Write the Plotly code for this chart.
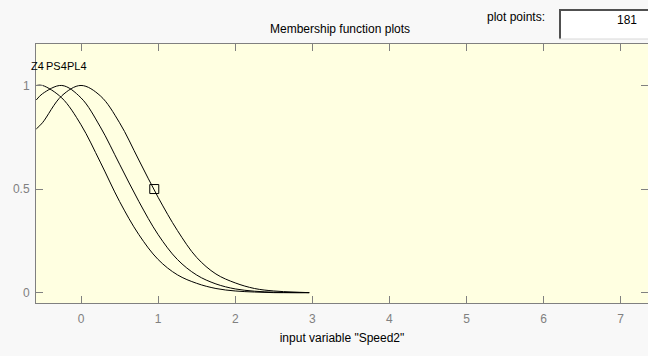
import plotly.graph_objects as go

# Membership functions of input variable "Speed2" (values sampled along x)
x_pts = [-0.58, -0.5, -0.25, 0.0, 0.25, 0.5, 0.75, 1.0, 1.25, 1.5, 1.75, 2.0, 2.25, 2.5, 2.75, 2.96]
z4 = [1.00, 1.00, 0.94, 0.81, 0.63, 0.44, 0.28, 0.16, 0.086, 0.045, 0.02, 0.008, 0.003, 0.0, 0.0, 0.0]
ps4 = [0.93, 0.96, 1.00, 0.94, 0.80, 0.62, 0.44, 0.28, 0.16, 0.085, 0.042, 0.018, 0.007, 0.002, 0.0, 0.0]
pl4 = [0.79, 0.82, 0.95, 1.00, 0.95, 0.82, 0.64, 0.46, 0.30, 0.17, 0.09, 0.047, 0.02, 0.008, 0.003, 0.0]

mf_names = ["Z4", "PS4", "PL4"]
mf_label_x = [-0.56, -0.315, -0.058]
mf_label_y = 1.094

# Selected point marker
sel_x = [0.95]
sel_y = [0.5]

x_ticks = [0, 1, 2, 3, 4, 5, 6, 7]
y_ticks = [0, 0.5, 1]
y_tick_text = ["0", "0.5", "1"]

plot_points = "181"

FONT = "Liberation Sans, Arial, sans-serif"
GRAY = "#808080"
FS = 12

fig = go.Figure()
for ys in (z4, ps4, pl4):
    fig.add_trace(go.Scatter(x=x_pts, y=ys, mode="lines",
                             line=dict(color="black", width=1, shape="spline"),
                             showlegend=False, hoverinfo="skip"))

fig.add_trace(go.Scatter(x=sel_x, y=sel_y, mode="markers",
                         marker=dict(symbol="square-open", size=9,
                                     color="black", line=dict(width=1)),
                         showlegend=False, hoverinfo="skip"))

# invisible trace so the right-hand tick axis is drawn
fig.add_trace(go.Scatter(x=[0], y=[0], yaxis="y2", mode="markers",
                         marker=dict(opacity=0), showlegend=False, hoverinfo="skip"))

for name, lx in zip(mf_names, mf_label_x):
    fig.add_annotation(x=lx, y=mf_label_y, text=name, showarrow=False,
                       font=dict(family=FONT, size=11, color="black"),
                       xanchor="center", yanchor="middle")

W, H = 648, 356
L, R, T, B = 36, 0, 44, 53
pw, ph = W - L - R, H - T - B


def px(xp):
    return (xp - L) / pw


def py(yp):
    return (H - B - yp) / ph


fig.add_annotation(xref="paper", yref="paper", x=px(340), y=py(29),
                   text="Membership function plots", showarrow=False,
                   font=dict(family=FONT, size=FS, color="black"),
                   xanchor="center", yanchor="middle")
fig.add_annotation(xref="paper", yref="paper", x=px(547), y=py(17),
                   text="plot points:", showarrow=False,
                   font=dict(family=FONT, size=FS, color="black"),
                   xanchor="right", yanchor="middle")

# plot-points edit box
fig.add_shape(type="rect", xref="paper", yref="paper",
              x0=px(559), x1=px(650), y0=py(39), y1=py(9),
              fillcolor="white", line=dict(width=0), layer="above")
fig.add_shape(type="line", xref="paper", yref="paper",
              x0=px(559), x1=px(650), y0=py(10), y1=py(10),
              line=dict(color="#505050", width=2), layer="above")
fig.add_shape(type="line", xref="paper", yref="paper",
              x0=px(560), x1=px(560), y0=py(10), y1=py(39),
              line=dict(color="#505050", width=2), layer="above")
fig.add_shape(type="line", xref="paper", yref="paper",
              x0=px(559), x1=px(650), y0=py(39), y1=py(39),
              line=dict(color="#d8d8d8", width=1), layer="above")
fig.add_annotation(xref="paper", yref="paper", x=px(639), y=py(20),
                   text=plot_points, showarrow=False,
                   font=dict(family=FONT, size=FS, color="black"),
                   xanchor="right", yanchor="middle")

fig.update_layout(
    width=W, height=H,
    margin=dict(l=L, r=R, t=T, b=B, pad=0),
    paper_bgcolor="#f8f8f8",
    plot_bgcolor="#ffffe1",
    font=dict(family=FONT, size=FS, color=GRAY),
    xaxis=dict(range=[-0.584, 7.354], tickvals=x_ticks,
               ticks="inside", ticklen=7, tickcolor=GRAY, tickwidth=1,
               showline=True, linecolor=GRAY, linewidth=1, mirror="ticks",
               showgrid=False, zeroline=False, ticklabelstandoff=5,
               tickfont=dict(family=FONT, size=FS, color=GRAY),
               title=dict(text='input variable "Speed2"',
                          font=dict(family=FONT, size=FS, color="black"),
                          standoff=8)),
    yaxis=dict(range=[-0.05, 1.2], tickvals=y_ticks, ticktext=y_tick_text,
               ticks="inside", ticklen=7, tickcolor=GRAY, tickwidth=1,
               showline=True, linecolor=GRAY, linewidth=1,
               showgrid=False, zeroline=False, ticklabelstandoff=3,
               tickfont=dict(family=FONT, size=FS, color=GRAY)),
    yaxis2=dict(range=[-0.05, 1.2], tickvals=y_ticks, overlaying="y",
                side="right", ticks="inside", ticklen=7, tickcolor=GRAY,
                showline=False, showgrid=False, zeroline=False,
                showticklabels=False),
)

fig.write_html("out.html")
